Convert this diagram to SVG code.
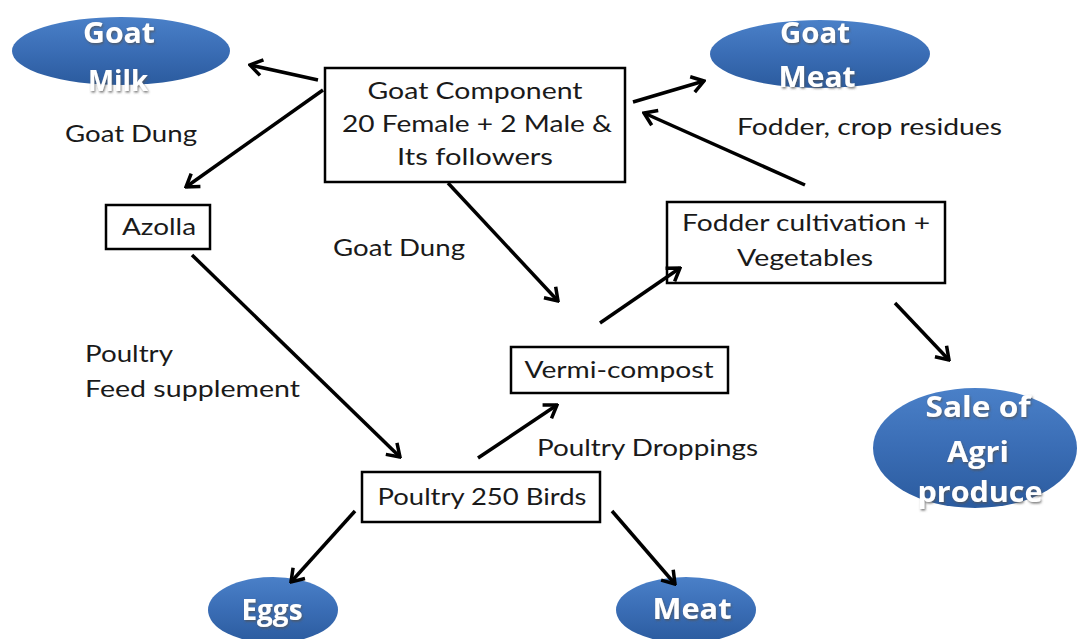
<svg xmlns="http://www.w3.org/2000/svg" width="1078" height="639" viewBox="0 0 1078 639">
<defs>
<linearGradient id="blue" x1="0" y1="0" x2="0" y2="1">
<stop offset="0" stop-color="#4a80c8"/>
<stop offset="0.5" stop-color="#3a6db5"/>
<stop offset="1" stop-color="#2b5b9e"/>
</linearGradient>
<filter id="sh" x="-20%" y="-20%" width="140%" height="150%">
<feDropShadow dx="1" dy="1.5" stdDeviation="1" flood-color="#555" flood-opacity="0.8"/>
</filter>
<marker id="ah" viewBox="0 0 16 20" refX="14" refY="10" markerWidth="16" markerHeight="20" markerUnits="userSpaceOnUse" orient="auto">
<path d="M2,2 L14,10 L2,18" fill="none" stroke="#000" stroke-width="3.5" stroke-linejoin="miter"/>
</marker>
</defs>
<style>
.box{fill:#fff;stroke:#000;stroke-width:2.5}
.ell{fill:url(#blue);stroke:none}
.t{font-family:Lato,"Open Sans",sans-serif;font-size:23px;fill:#1a1a1a}
.w{font-family:"Open Sans",Lato,sans-serif;font-weight:bold;font-size:28px;fill:#fff;filter:url(#sh)}
.c{stroke:#000;stroke-width:3.5;fill:none;marker-end:url(#ah)}
</style>
<rect width="1078" height="639" fill="#fff"/>
<g id="goat-milk">
<ellipse class="ell" cx="121" cy="51" rx="109" ry="34"/>
<text class="w" x="119" y="43" text-anchor="middle" textLength="72" lengthAdjust="spacingAndGlyphs">Goat</text>
<text class="w" x="118" y="91" text-anchor="middle" textLength="60" lengthAdjust="spacingAndGlyphs">Milk</text>
</g>
<g id="goat-meat">
<ellipse class="ell" cx="820" cy="54" rx="110" ry="34"/>
<text class="w" x="815" y="43" text-anchor="middle" textLength="70" lengthAdjust="spacingAndGlyphs">Goat</text>
<text class="w" x="817" y="87" text-anchor="middle" textLength="77" lengthAdjust="spacingAndGlyphs">Meat</text>
</g>
<g id="goat-component">
<rect class="box" x="325" y="68" width="300" height="114"/>
<text class="t" x="475" y="99" text-anchor="middle" textLength="215" lengthAdjust="spacingAndGlyphs">Goat Component</text>
<text class="t" x="477" y="132" text-anchor="middle" textLength="270" lengthAdjust="spacingAndGlyphs">20 Female + 2 Male &amp;</text>
<text class="t" x="475" y="165" text-anchor="middle" textLength="156" lengthAdjust="spacingAndGlyphs">Its followers</text>
</g>
<g id="azolla">
<rect class="box" x="106" y="205" width="104" height="44"/>
<text class="t" x="159" y="235" text-anchor="middle" textLength="74" lengthAdjust="spacingAndGlyphs">Azolla</text>
</g>
<g id="fodder">
<rect class="box" x="667" y="202" width="278" height="81"/>
<text class="t" x="806" y="231" text-anchor="middle" textLength="248" lengthAdjust="spacingAndGlyphs">Fodder cultivation +</text>
<text class="t" x="805" y="266" text-anchor="middle" textLength="136" lengthAdjust="spacingAndGlyphs">Vegetables</text>
</g>
<g id="vermi-compost">
<rect class="box" x="511" y="347" width="217" height="46"/>
<text class="t" x="619" y="378" text-anchor="middle" textLength="189" lengthAdjust="spacingAndGlyphs">Vermi-compost</text>
</g>
<g id="poultry">
<rect class="box" x="362" y="472" width="238" height="50"/>
<text class="t" x="482" y="505" text-anchor="middle" textLength="209" lengthAdjust="spacingAndGlyphs">Poultry 250 Birds</text>
</g>
<g id="sale">
<ellipse class="ell" cx="975" cy="448" rx="102" ry="60"/>
<text class="w" x="978" y="417" text-anchor="middle" textLength="105" lengthAdjust="spacingAndGlyphs">Sale of</text>
<text class="w" x="978" y="462" text-anchor="middle" textLength="62" lengthAdjust="spacingAndGlyphs">Agri</text>
<text class="w" x="980" y="502" text-anchor="middle" textLength="125" lengthAdjust="spacingAndGlyphs">produce</text>
</g>
<g id="eggs">
<ellipse class="ell" cx="273" cy="610" rx="65" ry="33"/>
<text class="w" x="272" y="620" text-anchor="middle" textLength="61" lengthAdjust="spacingAndGlyphs">Eggs</text>
</g>
<g id="meat">
<ellipse class="ell" cx="686" cy="610" rx="70" ry="33"/>
<text class="w" x="692" y="619" text-anchor="middle" textLength="79" lengthAdjust="spacingAndGlyphs">Meat</text>
</g>
<g id="labels">
<text class="t" x="65" y="142" textLength="132" lengthAdjust="spacingAndGlyphs">Goat Dung</text>
<text class="t" x="737" y="135" textLength="265" lengthAdjust="spacingAndGlyphs">Fodder, crop residues</text>
<text class="t" x="333" y="256" textLength="132" lengthAdjust="spacingAndGlyphs">Goat Dung</text>
<text class="t" x="85" y="362" textLength="88" lengthAdjust="spacingAndGlyphs">Poultry</text>
<text class="t" x="85" y="397" textLength="215" lengthAdjust="spacingAndGlyphs">Feed supplement</text>
<text class="t" x="537" y="456" textLength="221" lengthAdjust="spacingAndGlyphs">Poultry Droppings</text>
</g>
<g id="connectors">
<line class="c" x1="318" y1="80" x2="250" y2="65"/>
<line class="c" x1="323" y1="90" x2="186" y2="187"/>
<line class="c" x1="633" y1="102" x2="704" y2="81"/>
<line class="c" x1="805" y1="185" x2="644" y2="113"/>
<line class="c" x1="448" y1="183" x2="558" y2="301"/>
<line class="c" x1="600" y1="323" x2="680" y2="268"/>
<line class="c" x1="895" y1="303" x2="949" y2="360"/>
<line class="c" x1="192" y1="255" x2="400" y2="457"/>
<line class="c" x1="478" y1="458" x2="557" y2="405"/>
<line class="c" x1="355" y1="511" x2="291" y2="582"/>
<line class="c" x1="612" y1="511" x2="675" y2="584"/>
</g>
</svg>
